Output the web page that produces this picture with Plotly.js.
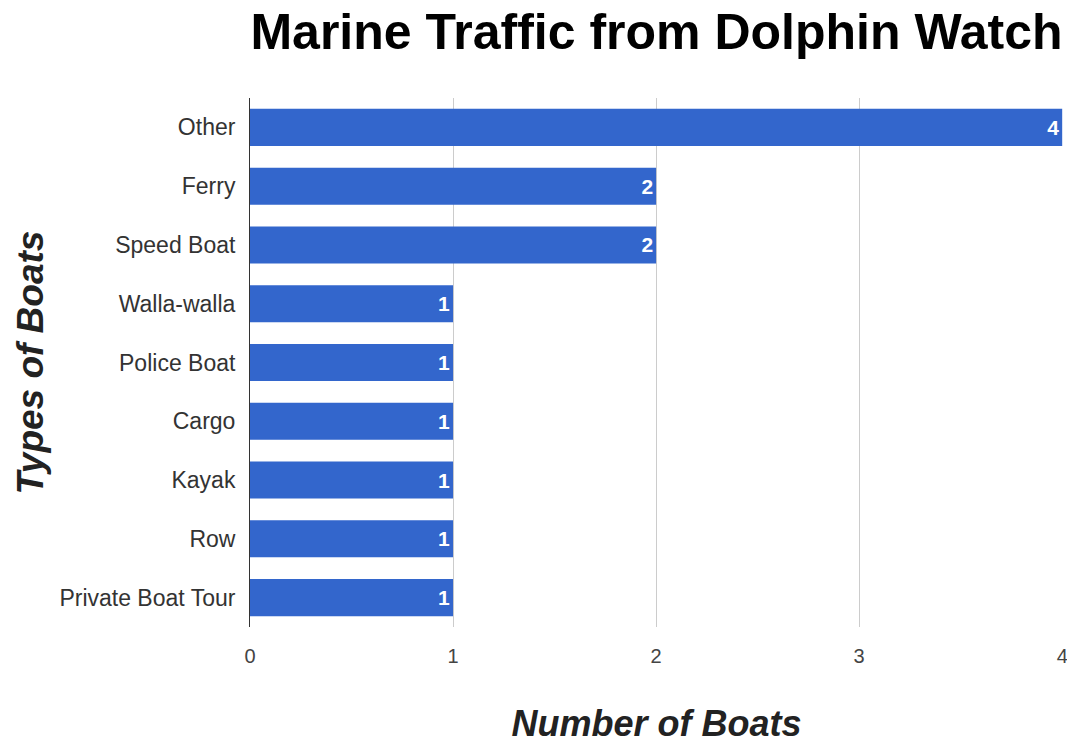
<!DOCTYPE html>
<html>
<head>
<meta charset="utf-8">
<script src="https://cdn.plot.ly/plotly-3.0.1.min.js"></script>
<style>html,body{margin:0;padding:0;background:#fff;}#chart{width:1067px;height:744px;}</style>
</head>
<body>
<div id="chart"></div>
<script>
const categories = ["Other", "Ferry", "Speed Boat", "Walla-walla", "Police Boat", "Cargo", "Kayak", "Row", "Private Boat Tour"];
const boatCounts = [4, 2, 2, 1, 1, 1, 1, 1, 1];
const xTickValues = [0, 1, 2, 3, 4];
const chartTitle = "Marine Traffic from Dolphin Watch";
const xTitle = "Number of Boats";
const yTitle = "Types of Boats";

const FONT = "Arial, 'Liberation Sans', sans-serif";

const trace = {
  type: "bar",
  orientation: "h",
  x: boatCounts,
  y: categories,
  marker: {color: "#3366cc"},
  text: boatCounts.map(String),
  textposition: "inside",
  insidetextanchor: "end",
  textfont: {family: FONT, size: 21, color: "#ffffff", weight: "bold"},
  hoverinfo: "none"
};

const layout = {
  width: 1067,
  height: 744,
  margin: {l: 250, r: 4, t: 98, b: 117, pad: 0},
  paper_bgcolor: "#ffffff",
  plot_bgcolor: "#ffffff",
  bargap: 0.37,
  showlegend: false,
  title: {
    text: "<b>" + chartTitle + "</b>",
    font: {family: FONT, size: 50, color: "#000000"},
    xref: "paper", x: 0.5, xanchor: "center",
    yref: "container", y: 0.957, yanchor: "middle"
  },
  xaxis: {
    range: [0, 4.004],
    tickvals: xTickValues,
    ticktext: xTickValues.map(String),
    ticklabeloverflow: "allow",
    showgrid: true,
    gridcolor: "#cccccc",
    gridwidth: 1,
    zeroline: false,
    showline: false,
    ticks: "outside",
    ticklen: 11,
    tickcolor: "rgba(0,0,0,0)",
    tickfont: {family: FONT, size: 20, color: "#444444"},
    title: {
      text: "<b><i>" + xTitle + "</i></b>",
      font: {family: FONT, size: 36, color: "#222222"},
      standoff: 48
    },
    fixedrange: true
  },
  yaxis: {
    type: "category",
    autorange: "reversed",
    showgrid: false,
    zeroline: false,
    showline: true,
    linecolor: "#333333",
    linewidth: 1,
    ticks: "outside",
    ticklen: 9,
    tickcolor: "rgba(0,0,0,0)",
    tickfont: {family: FONT, size: 23, color: "#333333"},
    title: {
      text: "<b><i>" + yTitle + "</i></b>",
      font: {family: FONT, size: 37, color: "#222222"},
      standoff: 4
    },
    fixedrange: true
  }
};

Plotly.newPlot("chart", [trace], layout, {displayModeBar: false, staticPlot: true});
</script>
</body>
</html>
